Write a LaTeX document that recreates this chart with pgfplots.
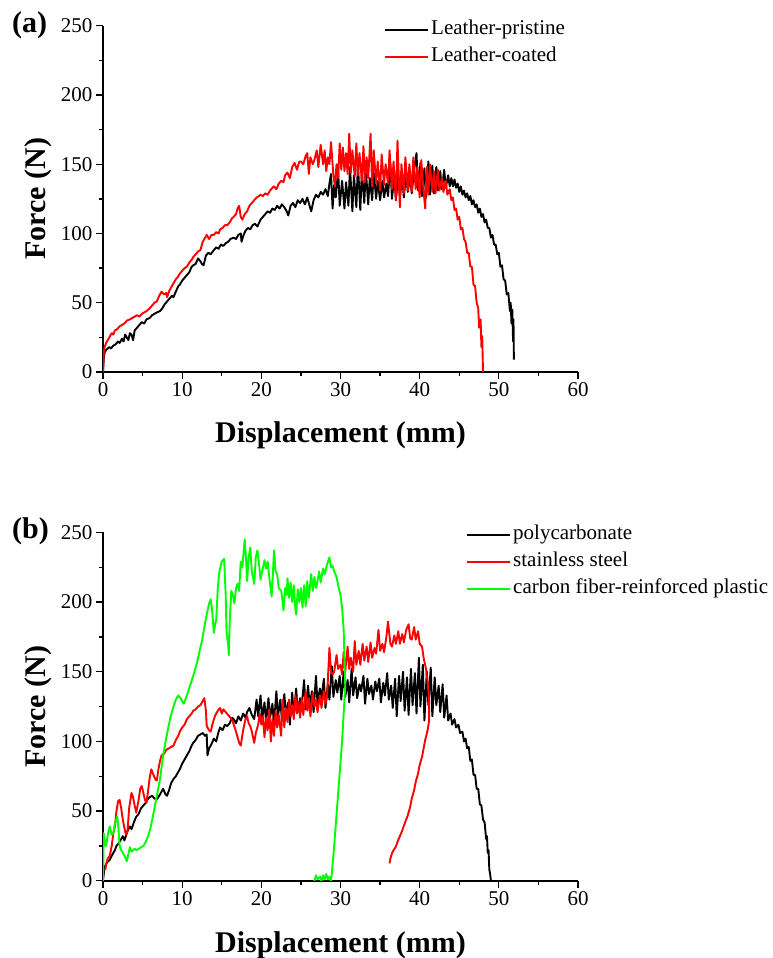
\documentclass[border=0pt]{standalone}
\usepackage{pgfplots}
\pgfplotsset{compat=1.18}
\usepackage{fontspec}
\setmainfont{Liberation Serif}

\pgfplotsset{
  forceaxis/.style={
    scale only axis,
    width=475pt,
    xmin=0, xmax=60, ymin=0, ymax=250,
    axis lines*=left,
    axis line style={line width=1.4pt, -},
    xtick={0,10,...,60}, ytick={0,50,...,250},
    minor tick num=1,
    tick align=outside,
    major tick length=7pt, minor tick length=4pt,
    every tick/.style={line width=1.3pt, black},
    /pgf/number format/assume math mode=true,
    ticklabel style={font=\fontsize{21}{24}\selectfont},
    xlabel={\textbf{Displacement (mm)}},
    ylabel={\textbf{Force (N)}},
    label style={font=\fontsize{30}{34}\selectfont},
    legend cell align=left,
    legend image code/.code={\draw[#1, line width=2pt] (0pt,0pt) -- (43pt,0pt);},
    legend style={draw=none, fill=none, inner sep=0pt, anchor=north west,
      font=\fontsize{21}{25}\selectfont, row sep=4pt,
      nodes={inner sep=2pt, text height=14pt, text depth=5pt}},
  },
  curve/.style={line width=1.9pt, line join=round},
}

\begin{document}
\begin{tikzpicture}
\useasboundingbox (0pt,0pt) rectangle (773pt,-958pt);

\node[anchor=base west, font=\fontsize{30}{34}\selectfont\bfseries, inner sep=0pt] at (12pt,-33pt) {(a)};
\node[anchor=base west, font=\fontsize{30}{34}\selectfont\bfseries, inner sep=0pt] at (12pt,-538pt) {(b)};

% ---------- panel (a)
\begin{axis}[forceaxis,
  at={(103pt,-372pt)}, anchor=south west, height=346.3pt,
  x label style={at={(axis description cs:0.5,-0.205)}, anchor=base},
  y label style={at={(axis description cs:-0.137,0.5)}, anchor=center},
  legend style={at={(rel axis cs:0.5916,1.022)}},
]
\addplot[curve, black] coordinates {
(0,0) (0.1,10) (0.2,14) (0.4,16) (0.6,17) (0.8,18) (1.0,17) (1.3,19) (1.6,20) (1.9,22)
(2.1,21) (2.4,24) (2.6,22) (2.8,27) (3.0,25) (3.2,23) (3.4,28) (3.6,27) (3.8,23) (4.0,30)
(4.3,32) (4.6,34) (4.9,36) (5.2,35) (5.5,38) (5.9,39) (6.2,41) (6.5,42) (6.8,43) (7.2,44)
(7.5,46) (7.8,49) (8.1,51) (8.4,53) (8.7,55) (8.9,54) (9.2,58) (9.5,62) (9.7,63) (10.0,66)
(10.3,68) (10.6,70) (10.9,72) (11.2,76) (11.4,77) (11.7,78) (12.0,82) (12.3,80) (12.5,78) (12.7,77)
(13.0,84) (13.3,86) (13.6,85) (14.0,88) (14.3,90) (14.6,89) (14.9,92) (15.2,91) (15.5,93) (15.8,94)
(16.1,96) (16.5,97) (16.8,96) (17.1,99) (17.4,100) (17.5,94) (17.7,98) (18.0,102) (18.3,104) (18.6,103)
(18.9,106) (19.2,107) (19.5,105) (19.9,110) (20.2,112) (20.5,114) (20.8,116) (21.1,115) (21.4,118) (21.7,117)
(22.0,120) (22.3,118) (22.6,121) (22.9,119) (23.2,116) (23.4,113) (23.7,120) (24.0,122) (24.3,119) (24.6,124)
(24.9,122) (25.2,125) (25.5,121) (25.8,126) (26.1,120) (26.3,116) (26.6,124) (26.9,128) (27.2,126) (27.5,130)
(27.8,128) (28.1,132) (28.4,127) (28.6,136) (28.8,143) (29.0,118) (29.2,135) (29.4,126) (29.7,146) (29.9,120)
(30.2,138) (30.5,118) (30.7,137) (31.0,120) (31.2,148) (31.5,116) (31.7,142) (32.0,119) (32.2,150) (32.5,117)
(32.7,145) (33.0,122) (33.2,146) (33.5,121) (33.7,140) (34.0,124) (34.2,144) (34.5,125) (34.7,138) (35.0,124)
(35.3,138) (35.5,126) (35.8,136) (36.0,127) (36.3,150) (36.5,125) (36.8,142) (37.0,124) (37.3,143) (37.5,127)
(37.8,140) (38.0,126) (38.3,144) (38.5,130) (38.8,141) (39.0,129) (39.3,146) (39.6,158) (39.8,131) (40.1,151)
(40.3,127) (40.6,147) (40.8,126) (41.1,152) (41.3,128) (41.6,149) (41.8,129) (42.1,148) (42.3,131) (42.6,145)
(42.8,132) (43.1,146) (43.3,133) (43.6,142) (43.8,134) (44.0,140) (44.2,134) (44.4,139) (44.6,133) (44.8,136)
(45.0,130) (45.2,134) (45.4,128) (45.6,131) (45.8,126) (46.0,129) (46.2,124) (46.4,127) (46.6,121) (46.8,124)
(47.0,119) (47.2,121) (47.4,115) (47.6,118) (47.8,112) (48.0,114) (48.2,108) (48.4,110) (48.6,104) (48.8,104)
(49.0,97) (49.2,99) (49.4,92) (49.6,92) (49.8,85) (50.0,86) (50.2,76) (50.4,77) (50.6,67) (50.8,66)
(51.0,56) (51.2,57) (51.4,44) (51.5,50) (51.6,35) (51.7,45) (51.8,22) (51.85,38) (51.9,9)
};
\addlegendentry{Leather-pristine}
\addplot[curve, red] coordinates {
(0,0) (0.1,14) (0.2,18) (0.4,21) (0.6,23) (0.9,26) (1.1,28) (1.3,27) (1.5,30) (1.8,31)
(2.1,33) (2.4,34) (2.7,35) (3.0,37) (3.4,38) (3.7,39) (4.0,40) (4.3,41) (4.6,40) (4.9,42)
(5.2,43) (5.5,44) (5.9,46) (6.2,48) (6.5,50) (6.8,51) (7.1,55) (7.4,58) (7.7,56) (8.0,57)
(8.1,54) (8.4,59) (8.7,62) (8.9,64) (9.2,67) (9.5,69) (9.7,71) (10.0,73) (10.3,75) (10.6,76)
(10.9,79) (11.2,81) (11.4,83) (11.7,85) (12.0,87) (12.3,88) (12.6,94) (12.9,97) (13.1,99) (13.4,96)
(13.7,99) (14.0,99) (14.3,101) (14.6,100) (14.8,103) (15.1,104) (15.4,106) (15.7,106) (16.0,108) (16.3,111)
(16.5,112) (16.8,114) (17.0,118) (17.2,120) (17.4,112) (17.6,110) (17.9,114) (18.2,116) (18.5,120) (18.8,122)
(19.1,124) (19.4,126) (19.7,127) (19.9,128) (20.2,127) (20.5,129) (20.8,128) (21.1,131) (21.4,133) (21.6,134)
(21.9,132) (22.2,136) (22.5,138) (22.8,137) (23.0,142) (23.3,144) (23.6,140) (23.9,148) (24.2,151) (24.5,146)
(24.8,152) (25.0,152) (25.3,150) (25.6,156) (25.8,158) (26.0,143) (26.2,155) (26.5,150) (26.7,153) (27.0,160)
(27.2,148) (27.5,164) (27.8,150) (28.0,160) (28.2,145) (28.4,155) (28.6,150) (28.8,166) (29.1,142) (29.3,134)
(29.5,150) (29.7,140) (29.9,165) (30.1,146) (30.3,162) (30.5,145) (30.7,158) (30.9,143) (31.1,172) (31.3,144)
(31.5,160) (31.8,141) (32.0,165) (32.2,142) (32.4,158) (32.7,138) (32.9,163) (33.1,137) (33.3,155) (33.5,140)
(33.8,172) (34.0,134) (34.2,160) (34.5,136) (34.7,152) (35.0,131) (35.2,157) (35.5,135) (35.7,150) (36.0,136)
(36.2,160) (36.5,132) (36.7,152) (37.0,124) (37.2,167) (37.5,119) (37.7,150) (38.0,129) (38.2,155) (38.5,131)
(38.7,150) (39.0,130) (39.2,155) (39.5,132) (39.7,148) (40.0,126) (40.2,153) (40.5,130) (40.7,118) (40.9,148)
(41.1,128) (41.3,150) (41.6,130) (41.8,145) (42.0,129) (42.3,146) (42.5,131) (42.8,140) (43.0,130) (43.3,138)
(43.5,128) (43.8,132) (44.0,124) (44.2,126) (44.4,117) (44.6,118) (44.8,110) (45.0,112) (45.2,103) (45.4,104)
(45.6,96) (45.8,94) (46.0,86) (46.2,86) (46.4,76) (46.6,76) (46.8,63) (47.0,62) (47.2,50) (47.4,46)
(47.5,32) (47.7,38) (47.8,18) (47.9,26) (48.0,0)
};
\addlegendentry{Leather-coated}
\end{axis}

% ---------- panel (b)
\begin{axis}[forceaxis,
  at={(103pt,-880.8pt)}, anchor=south west, height=348.5pt,
  x label style={at={(axis description cs:0.5,-0.207)}, anchor=base},
  y label style={at={(axis description cs:-0.137,0.5)}, anchor=center},
  legend style={at={(rel axis cs:0.7642,1.026)}},
]
\addplot[curve, black] coordinates {
(0,0) (0.2,10) (0.5,13) (0.85,15) (1.2,19) (1.5,22) (1.7,25) (2.0,27) (2.3,30) (2.5,32)
(2.7,29) (3.0,34) (3.2,37) (3.4,39) (3.6,37) (3.9,42) (4.2,46) (4.5,48) (4.8,52) (5.1,54)
(5.4,56) (5.7,59) (5.9,60) (6.2,61) (6.5,59) (6.8,58.5) (7.1,61) (7.4,64) (7.6,66) (7.9,62)
(8.1,61) (8.4,66) (8.6,70) (8.9,73) (9.2,75) (9.5,78) (9.7,80) (10.0,84) (10.3,87) (10.6,90)
(10.9,93) (11.2,97) (11.4,99) (11.7,101) (12.0,104) (12.3,105) (12.6,106) (12.9,104) (13.1,105) (13.2,90)
(13.4,95) (13.7,98) (14.0,102) (14.3,100) (14.6,107) (14.8,110) (15.1,108) (15.4,112) (15.7,111) (16.0,113)
(16.3,117) (16.5,116) (16.8,113) (17.1,118) (17.4,115) (17.7,120) (18.0,117) (18.2,121) (18.5,124) (18.8,119)
(19.1,116) (19.4,130) (19.6,118) (19.9,133) (20.1,116) (20.4,128) (20.6,114) (20.9,131) (21.1,117) (21.4,127)
(21.6,112) (21.9,136) (22.1,118) (22.4,130) (22.6,115) (22.9,134) (23.1,120) (23.4,128) (23.6,112) (23.9,135)
(24.1,118) (24.4,138) (24.6,121) (24.9,131) (25.1,125) (25.4,144) (25.6,123) (25.9,140) (26.1,126) (26.4,136)
(26.6,121) (26.9,147) (27.1,127) (27.4,138) (27.6,131) (27.9,145) (28.1,124) (28.4,141) (28.6,130) (28.9,154)
(29.1,132) (29.4,144) (29.6,135) (29.9,147) (30.1,130) (30.4,150) (30.6,132) (30.9,144) (31.1,128) (31.4,152)
(31.6,133) (31.9,146) (32.1,131) (32.4,141) (32.6,136) (32.9,147) (33.1,127) (33.4,145) (33.6,134) (33.9,140)
(34.1,130) (34.4,143) (34.6,136) (34.9,145) (35.1,128) (35.4,142) (35.6,133) (35.9,149) (36.1,130) (36.4,140)
(36.6,124) (36.9,145) (37.1,118) (37.4,147) (37.6,129) (37.9,150) (38.1,122) (38.4,146) (38.6,119) (38.9,152)
(39.1,126) (39.4,149) (39.6,120) (39.9,160) (40.1,125) (40.4,155) (40.6,115) (40.9,150) (41.1,126) (41.4,153)
(41.6,118) (41.9,146) (42.1,126) (42.4,140) (42.6,121) (42.9,141) (43.1,117) (43.4,133) (43.6,115) (43.9,120)
(44.1,112) (44.4,116) (44.6,110) (44.9,112) (45.1,106) (45.4,107) (45.6,100) (45.8,102) (46.0,95) (46.2,96)
(46.4,86) (46.6,87) (46.8,76) (47.0,76) (47.2,66) (47.4,66) (47.6,55) (47.8,54) (48.0,44) (48.2,42)
(48.4,30) (48.5,32) (48.6,20) (48.7,22) (48.8,8) (48.9,5) (49.0,0)
};
\addlegendentry{polycarbonate}
\addplot[curve, red] coordinates {
(0.3,8) (0.4,12) (0.6,16) (0.85,18) (1.1,25) (1.3,34) (1.5,39) (1.7,50) (1.9,57) (2.1,58)
(2.3,52) (2.5,44) (2.7,38) (2.9,33) (3.1,36) (3.3,52) (3.6,63) (3.8,60) (4.0,54) (4.2,49)
(4.5,58) (4.7,66) (4.9,68) (5.1,63) (5.3,58) (5.5,56) (5.7,65) (5.9,74) (6.1,80) (6.3,77)
(6.6,73) (6.8,72) (7.0,80) (7.2,86) (7.4,90) (7.7,91) (8.0,94) (8.3,95) (8.6,96) (8.9,97)
(9.2,101) (9.5,104) (9.7,107) (10.0,110) (10.3,112) (10.6,116) (10.9,118) (11.2,120) (11.4,122) (11.7,123)
(12.0,125) (12.3,126) (12.6,129) (12.8,131) (13.0,122) (13.1,111) (13.4,108) (13.6,107) (13.9,114) (14.2,119)
(14.5,122) (14.8,124) (15.0,120) (15.2,123) (15.5,121) (15.8,119) (16.1,117) (16.4,114) (16.7,109) (17.0,103)
(17.2,99) (17.4,97) (17.7,108) (18.0,116) (18.2,118) (18.4,113) (18.6,111) (18.8,107) (19.1,99) (19.3,106)
(19.6,112) (19.8,120) (20.0,112) (20.2,118) (20.4,103) (20.6,117) (20.8,108) (21.0,123) (21.2,100) (21.4,116)
(21.6,104) (21.8,122) (22.0,110) (22.2,119) (22.5,104) (22.7,130) (22.9,110) (23.1,124) (23.3,114) (23.5,130)
(23.7,118) (23.9,126) (24.1,116) (24.3,133) (24.5,120) (24.7,128) (24.9,117) (25.1,131) (25.3,119) (25.6,136)
(25.8,122) (26.0,131) (26.2,118) (26.5,135) (26.7,125) (26.9,130) (27.1,121) (27.4,133) (27.6,124) (27.9,136)
(28.1,127) (28.3,132) (28.6,167) (28.8,150) (29.0,148) (29.2,150) (29.5,162) (29.7,152) (30.0,155) (30.2,148)
(30.4,164) (30.6,150) (30.9,168) (31.1,152) (31.3,160) (31.6,150) (31.8,172) (32.0,155) (32.3,165) (32.5,155)
(32.8,170) (33.0,158) (33.3,168) (33.5,157) (33.8,171) (34.0,160) (34.3,167) (34.5,163) (34.8,180) (35.0,165)
(35.3,170) (35.5,164) (35.8,175) (36.0,186) (36.3,170) (36.5,168) (36.8,176) (37.0,170) (37.3,179) (37.5,170)
(37.8,177) (38.0,171) (38.3,180) (38.6,184) (38.8,174) (39.0,173) (39.3,182) (39.5,173) (39.8,179) (40.0,170)
(40.3,168) (40.5,160) (40.8,152) (41.0,143) (41.2,130) (41.2,115) (41.0,108) (40.7,101) (40.5,95) (40.3,89)
(40.0,83) (39.8,77) (39.5,71) (39.3,65) (39.0,59) (38.8,53) (38.5,47) (38.1,41) (37.8,36) (37.5,32)
(37.2,28) (37.0,24.5) (36.7,22) (36.5,19.7) (36.3,16) (36.2,12.5)
};
\addlegendentry{stainless steel}
\addplot[curve, green] coordinates {
(0,0) (0.1,34) (0.25,27) (0.4,25) (0.6,33) (0.85,39) (1.1,33) (1.3,34) (1.5,41) (1.8,46)
(1.95,38) (2.1,25) (2.3,22) (2.5,20) (2.8,17) (3.0,14) (3.2,19) (3.4,24) (3.6,21) (3.8,22)
(4.0,23) (4.2,22) (4.5,23) (4.8,24) (5.1,25) (5.4,28) (5.7,32) (6.0,38) (6.4,49) (6.8,61)
(7.2,73) (7.6,90) (8.0,103) (8.5,117) (8.9,125) (9.2,130) (9.5,133) (9.8,131) (10.2,127) (10.6,133)
(11.0,140) (11.5,149) (11.9,157) (12.2,165) (12.5,172) (12.8,182) (13.1,191) (13.4,199) (13.6,202) (13.8,193)
(14.0,178) (14.2,185) (14.3,187) (14.5,210) (14.7,222) (15.0,229) (15.3,231) (15.5,205) (15.6,179) (15.8,170)
(15.9,162) (16.0,185) (16.2,208) (16.4,205) (16.6,199) (16.8,210) (17.0,213) (17.2,208) (17.4,229) (17.6,225)
(17.9,245) (18.1,228) (18.2,215) (18.4,232) (18.6,239) (18.8,222) (19.1,213) (19.3,232) (19.5,237) (19.7,228)
(19.9,216) (20.1,222) (20.4,230) (20.6,224) (20.8,229) (21.0,218) (21.3,204) (21.5,225) (21.6,237) (21.8,222)
(22.0,220) (22.2,210) (22.5,208) (22.7,200) (22.8,194) (23.0,210) (23.2,205) (23.3,217) (23.5,203) (23.7,214)
(23.9,200) (24.1,212) (24.3,195) (24.4,191) (24.6,209) (24.8,200) (25.0,210) (25.2,196) (25.4,212) (25.6,197)
(25.8,215) (26.0,203) (26.3,220) (26.5,208) (26.7,218) (26.9,210) (27.1,215) (27.3,222) (27.5,214) (27.8,224)
(28.0,220) (28.3,227) (28.6,232) (28.8,225) (29.0,226) (29.2,222) (29.5,218) (29.7,212) (30.0,205) (30.2,196)
(30.4,180) (30.5,160) (30.6,140) (30.4,120) (30.2,100) (30.0,85) (29.8,70) (29.6,55) (29.4,40) (29.2,25)
(29.0,12) (28.9,5) (28.8,0) (28.6,3) (28.4,1) (28.2,5) (28.0,1) (27.8,4) (27.6,0) (27.4,3)
(27.1,1) (26.9,4) (26.7,0)
};
\addlegendentry{carbon fiber-reinforced plastic}
\end{axis}
\end{tikzpicture}
\end{document}
